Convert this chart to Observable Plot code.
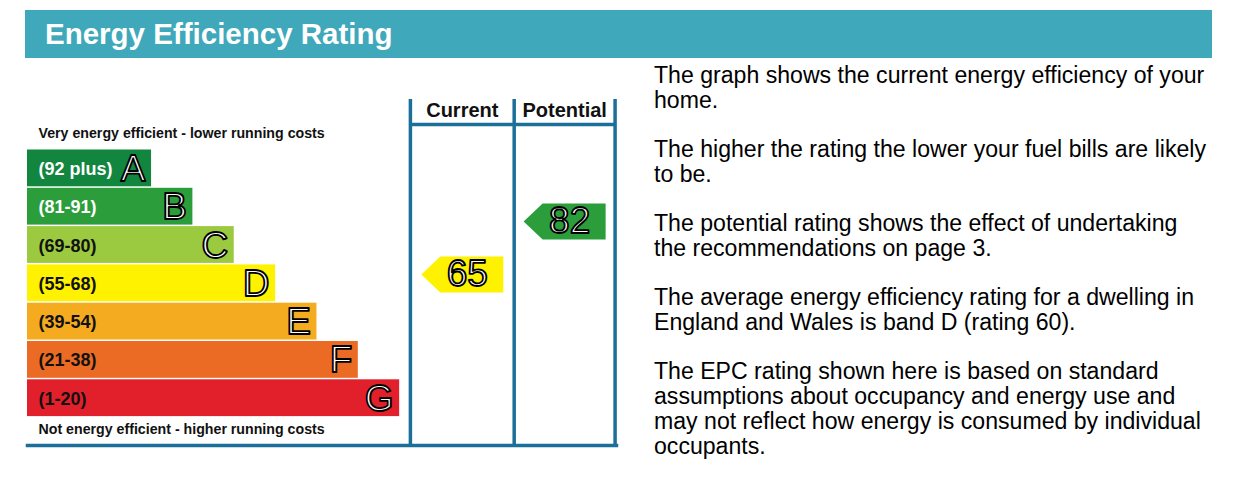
<!DOCTYPE html>
<html><head><meta charset="utf-8">
<script src="https://cdn.jsdelivr.net/npm/d3@7"></script>
<script src="https://cdn.jsdelivr.net/npm/@observablehq/plot@0.6"></script>
<style>
body{margin:0;background:#fff;width:1244px;height:491px;position:relative;overflow:hidden;font-family:"Liberation Sans",Arial,Helvetica,sans-serif;}
#title{position:absolute;left:25px;top:10px;width:1187px;height:48px;background:#3fa8ba;color:#fff;font-weight:bold;font-size:29.5px;line-height:48px;padding-left:20px;box-sizing:border-box;}
#chart{position:absolute;left:0;top:0;}
#notes{position:absolute;left:654px;top:63px;font-size:23.1px;line-height:25px;color:#000;}
#notes p{margin:0 0 24px 0;white-space:nowrap;}
</style></head><body>
<div id="chart"></div>
<div id="title">Energy Efficiency Rating</div>
<div id="notes"></div>
<script>
// ---- data ----
const bands = ["A", "B", "C", "D", "E", "F", "G"];
const rangeLabels = ["(92 plus)", "(81-91)", "(69-80)", "(55-68)", "(39-54)", "(21-38)", "(1-20)"];
const bandLow = [92, 81, 69, 55, 39, 21, 1];
const bandHigh = [100, 91, 80, 68, 54, 38, 20];
const bandColors = ["#12863f", "#2b9e3b", "#9bc93f", "#fff200", "#f5ab1f", "#eb6b24", "#e2202b"];
const labelColors = ["#fff", "#fff", "#111", "#111", "#111", "#111", "#111"];
const ratingColumns = ["Current", "Potential"];
const ratingValues = [65, 82];
const topNote = "Very energy efficient - lower running costs";
const bottomNote = "Not energy efficient - higher running costs";
const notes = [
  ["The graph shows the current energy efficiency of your", "home."],
  ["The higher the rating the lower your fuel bills are likely", "to be."],
  ["The potential rating shows the effect of undertaking", "the recommendations on page 3."],
  ["The average energy efficiency rating for a dwelling in", "England and Wales is band D (rating 60)."],
  ["The EPC rating shown here is based on standard", "assumptions about occupancy and energy use and", "may not reflect how energy is consumed by individual", "occupants."]
];

// ---- derived tables ----
const bandTable = bands.map((b, i) => ({band: b, label: rangeLabels[i], lo: bandLow[i], hi: bandHigh[i], color: bandColors[i], labelColor: labelColors[i], index: i}));
const bandOf = v => bandTable.find(d => v >= d.lo && v <= d.hi);
const boundaries = [bandHigh[0] + 0.5, ...bandLow.map(v => v - 0.5)];
const step = 38.3, yTop = 149.5;
const yRange = boundaries.map((_, i) => yTop + i * step);

const dividers = [9.26, 11.77, 14.21];
const colCenters = [(dividers[0] + dividers[1]) / 2, (dividers[1] + dividers[2]) / 2];
const ratingTable = ratingColumns.map((c, i) => ({column: c, value: ratingValues[i], x: colCenters[i], color: bandOf(ratingValues[i]).color}));

const lineColor = "#1b6f98";
const arrowSymbol = {
  draw(ctx) {
    const w = 41, h = 18, tip = 19;
    ctx.moveTo(-w, 0);
    ctx.lineTo(-w + tip, -h);
    ctx.lineTo(w, -h);
    ctx.lineTo(w, h);
    ctx.lineTo(-w + tip, h);
    ctx.closePath();
  }
};

const chart = Plot.plot({
  width: 640,
  height: 460,
  marginTop: 99,
  marginBottom: 15,
  marginLeft: 27,
  marginRight: 24,
  style: {fontFamily: '"Liberation Sans", Arial, sans-serif', background: "transparent", overflow: "visible"},
  x: {type: "linear", domain: [0, 15], range: [27, 27 + 15 * 41.35], axis: null},
  y: {type: "linear", domain: boundaries, range: yRange, axis: null},
  marks: [
    Plot.rect(bandTable, {x1: 0, x2: d => d.index + 3, y1: d => d.hi + 0.5, y2: d => d.lo - 0.5, fill: d => d.color, insetBottom: 1.5}),
    Plot.text(bandTable, {x: 0, y: d => (d.hi + d.lo) / 2, text: "label", dx: 11, dy: 0, textAnchor: "start", fontSize: 18, fontWeight: "bold", fill: d => d.labelColor}),
    Plot.text(bandTable, {x: d => d.index + 3, y: d => (d.hi + d.lo) / 2, text: "band", dx: -6, dy: 0, textAnchor: "end", fontSize: 37, fill: "#fff", stroke: "#000", strokeWidth: 1.8, paintOrder: "fill"}),
    Plot.text([topNote], {x: 0, y: boundaries[0], text: d => d, dx: 11, dy: -16.5, textAnchor: "start", fontSize: 14.2, fontWeight: "bold", fill: "#111"}),
    Plot.text([bottomNote], {x: 0, y: boundaries[boundaries.length - 1], text: d => d, dx: 11, dy: 11.5, textAnchor: "start", fontSize: 14.2, fontWeight: "bold", fill: "#111"}),
    Plot.ruleX(dividers, {stroke: lineColor, strokeWidth: 3.5}),
    Plot.ruleY([boundaries[0]], {x1: dividers[0], x2: dividers[2], dy: -25.5, stroke: lineColor, strokeWidth: 3.5}),
    Plot.frame({anchor: "bottom", stroke: lineColor, strokeWidth: 3.5}),
    Plot.text(ratingColumns, {x: (d, i) => colCenters[i], y: () => boundaries[0], text: d => d, dy: -39.5, fontSize: 20, fontWeight: "bold", fill: "#111"}),
    Plot.dot(ratingTable, {x: "x", y: "value", symbol: arrowSymbol, fill: "color"}),
    Plot.text(ratingTable, {x: "x", y: "value", text: d => String(d.value), dx: 5, fontSize: 37, fill: "#fff", stroke: "#000", strokeWidth: 1.8, paintOrder: "fill"})
  ]
});
document.getElementById("chart").append(chart);

const notesEl = document.getElementById("notes");
for (const para of notes) {
  const p = document.createElement("p");
  para.forEach((line, i) => {
    if (i) p.appendChild(document.createElement("br"));
    p.appendChild(document.createTextNode(line));
  });
  notesEl.appendChild(p);
}
</script>
</body></html>
